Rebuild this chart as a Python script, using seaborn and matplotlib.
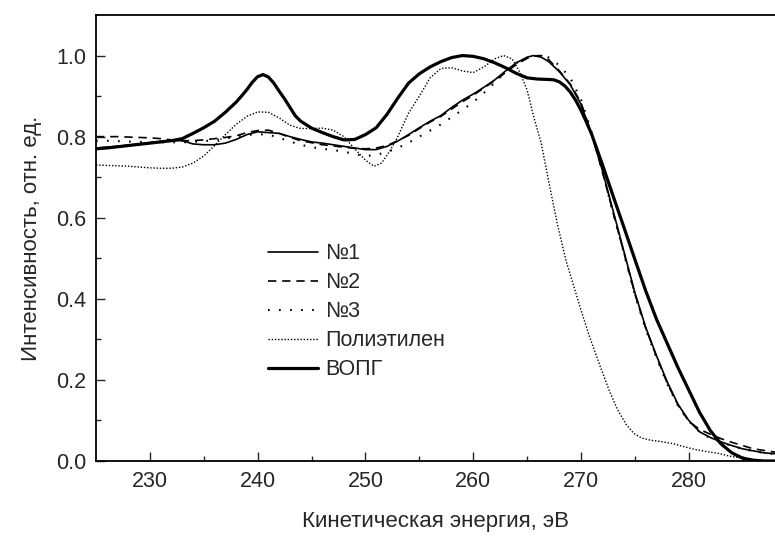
import matplotlib
matplotlib.use("Agg")
import matplotlib.pyplot as plt
import seaborn as sns

sns.set_style("ticks")
plt.rcParams["font.family"] = ["Liberation Sans", "DejaVu Sans"]

# ------------------------------------------
# Data
# ------------------------------------------
e_n1 = [225, 226, 227, 228, 229, 230, 231, 232, 233, 234, 235, 236, 237, 238, 239,
        240, 241, 242, 243, 244, 245, 246, 247, 248, 249, 250, 251, 252, 253, 254,
        255, 256, 257, 258, 259, 260, 261, 262, 263, 264, 265, 265.6, 266.3, 267,
        268, 269, 270, 271, 272, 273, 274, 275, 276, 277, 278, 279, 280, 281, 282,
        283, 284, 285, 286, 287, 288]
i_n1 = [0.772, 0.774, 0.776, 0.779, 0.782, 0.785, 0.788, 0.790, 0.790, 0.782, 0.780,
        0.780, 0.784, 0.793, 0.805, 0.812, 0.810, 0.808, 0.800, 0.793, 0.787, 0.784,
        0.780, 0.776, 0.772, 0.768, 0.768, 0.776, 0.789, 0.805, 0.822, 0.838, 0.852,
        0.872, 0.890, 0.905, 0.922, 0.940, 0.962, 0.982, 0.996, 1.000, 0.996, 0.985,
        0.960, 0.928, 0.880, 0.805, 0.715, 0.615, 0.515, 0.415, 0.330, 0.260, 0.195,
        0.140, 0.100, 0.072, 0.058, 0.047, 0.038, 0.030, 0.025, 0.020, 0.018]

e_n2 = e_n1
i_n2 = [0.800, 0.800, 0.800, 0.799, 0.798, 0.797, 0.795, 0.792, 0.790, 0.790, 0.792,
        0.795, 0.798, 0.802, 0.810, 0.815, 0.816, 0.808, 0.798, 0.790, 0.785, 0.780,
        0.777, 0.774, 0.771, 0.770, 0.772, 0.778, 0.790, 0.803, 0.820, 0.836, 0.850,
        0.868, 0.886, 0.902, 0.920, 0.938, 0.958, 0.978, 0.993, 0.999, 1.000, 0.990,
        0.962, 0.930, 0.884, 0.805, 0.712, 0.610, 0.512, 0.412, 0.328, 0.258, 0.192,
        0.138, 0.098, 0.078, 0.066, 0.055, 0.046, 0.038, 0.030, 0.026, 0.022]

e_n3 = [225, 226, 227, 228, 229, 230, 231, 232, 233, 234, 235, 236, 237, 238, 239,
        240, 241, 242, 243, 244, 245, 246, 247, 248, 249, 250, 251, 252, 253, 254,
        255, 256, 257, 258, 259, 260, 261, 262, 263, 264, 265, 266, 266.6, 267.2,
        268, 269, 270, 271, 272, 273, 274, 275, 276, 277, 278, 279, 280, 281, 282,
        283, 284, 285, 286, 287, 288]
i_n3 = [0.790, 0.790, 0.789, 0.788, 0.787, 0.786, 0.786, 0.786, 0.786, 0.787, 0.789,
        0.791, 0.795, 0.800, 0.804, 0.806, 0.805, 0.797, 0.788, 0.780, 0.774, 0.770,
        0.767, 0.763, 0.757, 0.752, 0.755, 0.762, 0.772, 0.785, 0.800, 0.815, 0.830,
        0.848, 0.866, 0.885, 0.908, 0.933, 0.960, 0.982, 0.994, 0.999, 1.000, 0.993,
        0.975, 0.945, 0.892, 0.810, 0.713, 0.610, 0.510, 0.410, 0.325, 0.255, 0.190,
        0.136, 0.098, 0.072, 0.056, 0.046, 0.037, 0.030, 0.024, 0.020, 0.017]

e_pe = [225, 226, 227, 228, 229, 230, 231, 232, 233, 234, 235, 236, 237, 238, 239,
        240, 241, 242, 243, 244, 245, 246, 247, 248, 249, 250, 250.8, 251.5, 252.3,
        253, 254, 255, 256, 257, 258, 259, 260, 261, 262, 262.8, 263.6, 264.3, 265,
        265.6, 266.3, 267, 267.8, 268.6, 269.4, 270, 270.8, 271.8, 272.6, 273.4,
        274.2, 274.9, 275.6, 276.5, 277.4, 278.5, 279.6, 280.5, 281.5, 282.7, 283.8,
        284.9, 286, 287, 288]
i_pe = [0.730, 0.729, 0.728, 0.727, 0.725, 0.723, 0.722, 0.722, 0.725, 0.735, 0.752,
        0.778, 0.805, 0.830, 0.850, 0.861, 0.860, 0.846, 0.828, 0.820, 0.820, 0.821,
        0.816, 0.800, 0.770, 0.742, 0.727, 0.735, 0.766, 0.800, 0.858, 0.900, 0.945,
        0.968, 0.970, 0.962, 0.958, 0.972, 0.992, 1.000, 0.992, 0.960, 0.915, 0.850,
        0.785, 0.690, 0.585, 0.495, 0.425, 0.372, 0.306, 0.232, 0.175, 0.126, 0.090,
        0.068, 0.057, 0.051, 0.048, 0.043, 0.035, 0.029, 0.024, 0.019, 0.012, 0.007,
        0.003, 0.001, 0.000]

e_hopg = [225, 226, 227, 228, 229, 230, 231, 232, 233, 234, 235, 236, 237, 238, 238.5,
          239, 239.5, 240, 240.5, 241, 241.5, 242, 242.5, 243, 243.5, 244, 245, 246,
          247, 248, 249, 250, 251, 252, 253, 254, 255, 256, 257, 258, 259, 260, 261,
          262, 263, 264, 265, 266, 267, 267.5, 268, 268.5, 269, 269.5, 270, 270.5,
          271, 272, 273, 274, 275, 276, 277, 278, 279, 280, 281, 282, 283, 284, 285,
          286, 287, 288]
i_hopg = [0.770, 0.772, 0.775, 0.778, 0.781, 0.784, 0.787, 0.790, 0.795, 0.808, 0.822,
          0.838, 0.860, 0.885, 0.900, 0.916, 0.934, 0.948, 0.953, 0.947, 0.932, 0.912,
          0.893, 0.872, 0.851, 0.838, 0.821, 0.810, 0.800, 0.792, 0.793, 0.805, 0.822,
          0.855, 0.895, 0.932, 0.955, 0.972, 0.985, 0.995, 1.000, 0.998, 0.992, 0.982,
          0.970, 0.956, 0.945, 0.942, 0.941, 0.940, 0.935, 0.925, 0.910, 0.890, 0.865,
          0.836, 0.805, 0.730, 0.652, 0.575, 0.497, 0.420, 0.350, 0.290, 0.230, 0.175,
          0.120, 0.075, 0.042, 0.020, 0.007, 0.002, 0.000, 0.000]

labels = ["№1", "№2", "№3", "Полиэтилен", "ВОПГ"]
x_ticks = [230, 240, 250, 260, 270, 280]
y_ticks = [0.0, 0.2, 0.4, 0.6, 0.8, 1.0]

# ------------------------------------------
# Figure
# ------------------------------------------
fig = plt.figure(figsize=(7.75, 5.36), dpi=100)
ax = fig.add_axes([96 / 775, 75 / 536, 1 - 96 / 775, 446 / 536])

sns.lineplot(x=e_n1, y=i_n1, ax=ax, color="black", lw=1.2, label=labels[0])
sns.lineplot(x=e_n2, y=i_n2, ax=ax, color="black", lw=1.2,
             linestyle=(0, (5, 3.5)), label=labels[1])
sns.lineplot(x=e_n3, y=i_n3, ax=ax, color="black", lw=1.5,
             linestyle=(0, (0.8, 4.5)), label=labels[2])
sns.lineplot(x=e_pe, y=i_pe, ax=ax, color="black", lw=1.0,
             linestyle=(0, (1, 1.3)), label=labels[3])
sns.lineplot(x=e_hopg, y=i_hopg, ax=ax, color="black", lw=2.3, label=labels[4])

ax.set_xlim(225, 288)
ax.set_ylim(0, 1.1)
ax.set_xticks(x_ticks)
ax.set_yticks(y_ticks)
ax.set_xticks([235, 245, 255, 265, 275, 285], minor=True)
ax.set_yticks([0.1, 0.3, 0.5, 0.7, 0.9], minor=True)
ax.set_yticklabels([f"{v:.1f}" for v in y_ticks])
ax.tick_params(which="major", direction="in", length=6.5, width=1.0,
               labelsize=15.5, pad=7)
ax.tick_params(which="minor", direction="in", length=3.5, width=1.0)

for side in ["left", "bottom", "top"]:
    ax.spines[side].set_linewidth(1.3)
    ax.spines[side].set_color("black")
ax.spines["right"].set_visible(False)

ax.set_xlabel("Кинетическая энергия, эВ", fontsize=16, labelpad=14)
ax.set_ylabel("Интенсивность, отн. ед.", fontsize=16, labelpad=10)

ax.legend(loc="upper left", bbox_to_anchor=(0.253, 0.488), frameon=False,
          fontsize=15.5, handlelength=2.32, handletextpad=0.33,
          labelspacing=0.37, borderpad=0, borderaxespad=0)

fig.savefig("out.png", dpi=100)
